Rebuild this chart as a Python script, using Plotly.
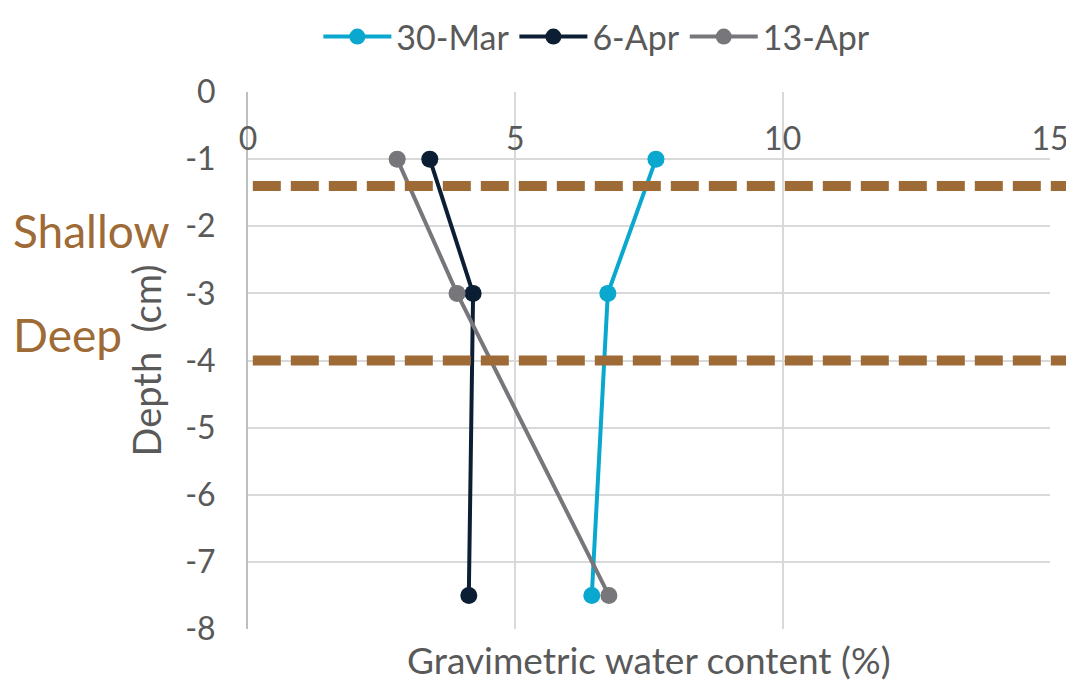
import plotly.graph_objects as go

depth = [-1, -3, -7.5]
series_names = ["30-Mar", "6-Apr", "13-Apr"]
mar30 = [7.63, 6.73, 6.43]
apr6 = [3.40, 4.21, 4.13]
apr13 = [2.79, 3.91, 6.75]
colors = ["#0AA8CE", "#0C1E33", "#77777B"]
layer_bounds = [-1.4, -4.0]
layer_labels = ["Shallow", "Deep"]
layer_label_y = [-2.06, -3.62]
x_ticks = [0, 5, 10, 15]
y_ticks = [0, -1, -2, -3, -4, -5, -6, -7, -8]
y_tick_text = ["0", "-1", "-2", "-3", "-4", "-5", "-6", "-7", "-8"]

FONT = "Lato, 'Open Sans', sans-serif"
TXT = "#595959"
BROWN = "#9E6A36"

fig = go.Figure()
for name, vals, col in zip(series_names, [mar30, apr6, apr13], colors):
    fig.add_trace(go.Scatter(
        x=vals, y=depth, name=name, mode="lines+markers",
        line=dict(color=col, width=4),
        marker=dict(color=col, size=17),
    ))

for yb in layer_bounds:
    fig.add_shape(type="line", xref="paper", yref="y",
                  x0=0.006, x1=1.021, y0=yb, y1=yb,
                  line=dict(color=BROWN, width=10, dash="28px,10px"),
                  layer="above")

for lab, ly in zip(layer_labels, layer_label_y):
    fig.add_annotation(text=lab, xref="paper", yref="y",
                       x=-0.295, y=ly, xanchor="left", yanchor="middle",
                       showarrow=False,
                       font=dict(family=FONT, size=46, color=BROWN))

fig.update_layout(
    width=1066, height=675,
    margin=dict(l=240, r=24, t=84, b=54, autoexpand=False),
    paper_bgcolor="white", plot_bgcolor="white",
    font=dict(family=FONT, color=TXT, size=32),
    showlegend=True,
    legend=dict(orientation="h", x=0.435, xanchor="center",
                y=1.1564, yanchor="top", borderwidth=0,
                font=dict(size=34, color=TXT), itemwidth=68,
                tracegroupgap=0),
    xaxis=dict(range=[0, 15], tickvals=x_ticks, side="bottom",
               anchor="free", position=1.0, ticklabelstandoff=25,
               showgrid=True, gridcolor="#D9D9D9", gridwidth=2,
               zeroline=False, showline=False, ticks="",
               tickfont=dict(size=32, color=TXT),
               title=None),
    yaxis=dict(range=[-8, 0], tickvals=y_ticks, ticktext=y_tick_text,
               showgrid=True, gridcolor="#D9D9D9", gridwidth=2,
               zeroline=False, showline=True, linecolor="#BFBFBF", linewidth=2,
               ticks="", ticklabelstandoff=24,
               tickfont=dict(size=32, color=TXT),
               title=dict(text="Depth  (cm)", font=dict(size=38, color=TXT), standoff=12)),
)

fig.add_annotation(text="Gravimetric water content (%)", xref="paper", yref="paper",
                   x=0.5, y=-0.0577, xanchor="center", yanchor="middle", showarrow=False,
                   font=dict(family=FONT, size=37, color=TXT))

fig.write_html("out.html")
